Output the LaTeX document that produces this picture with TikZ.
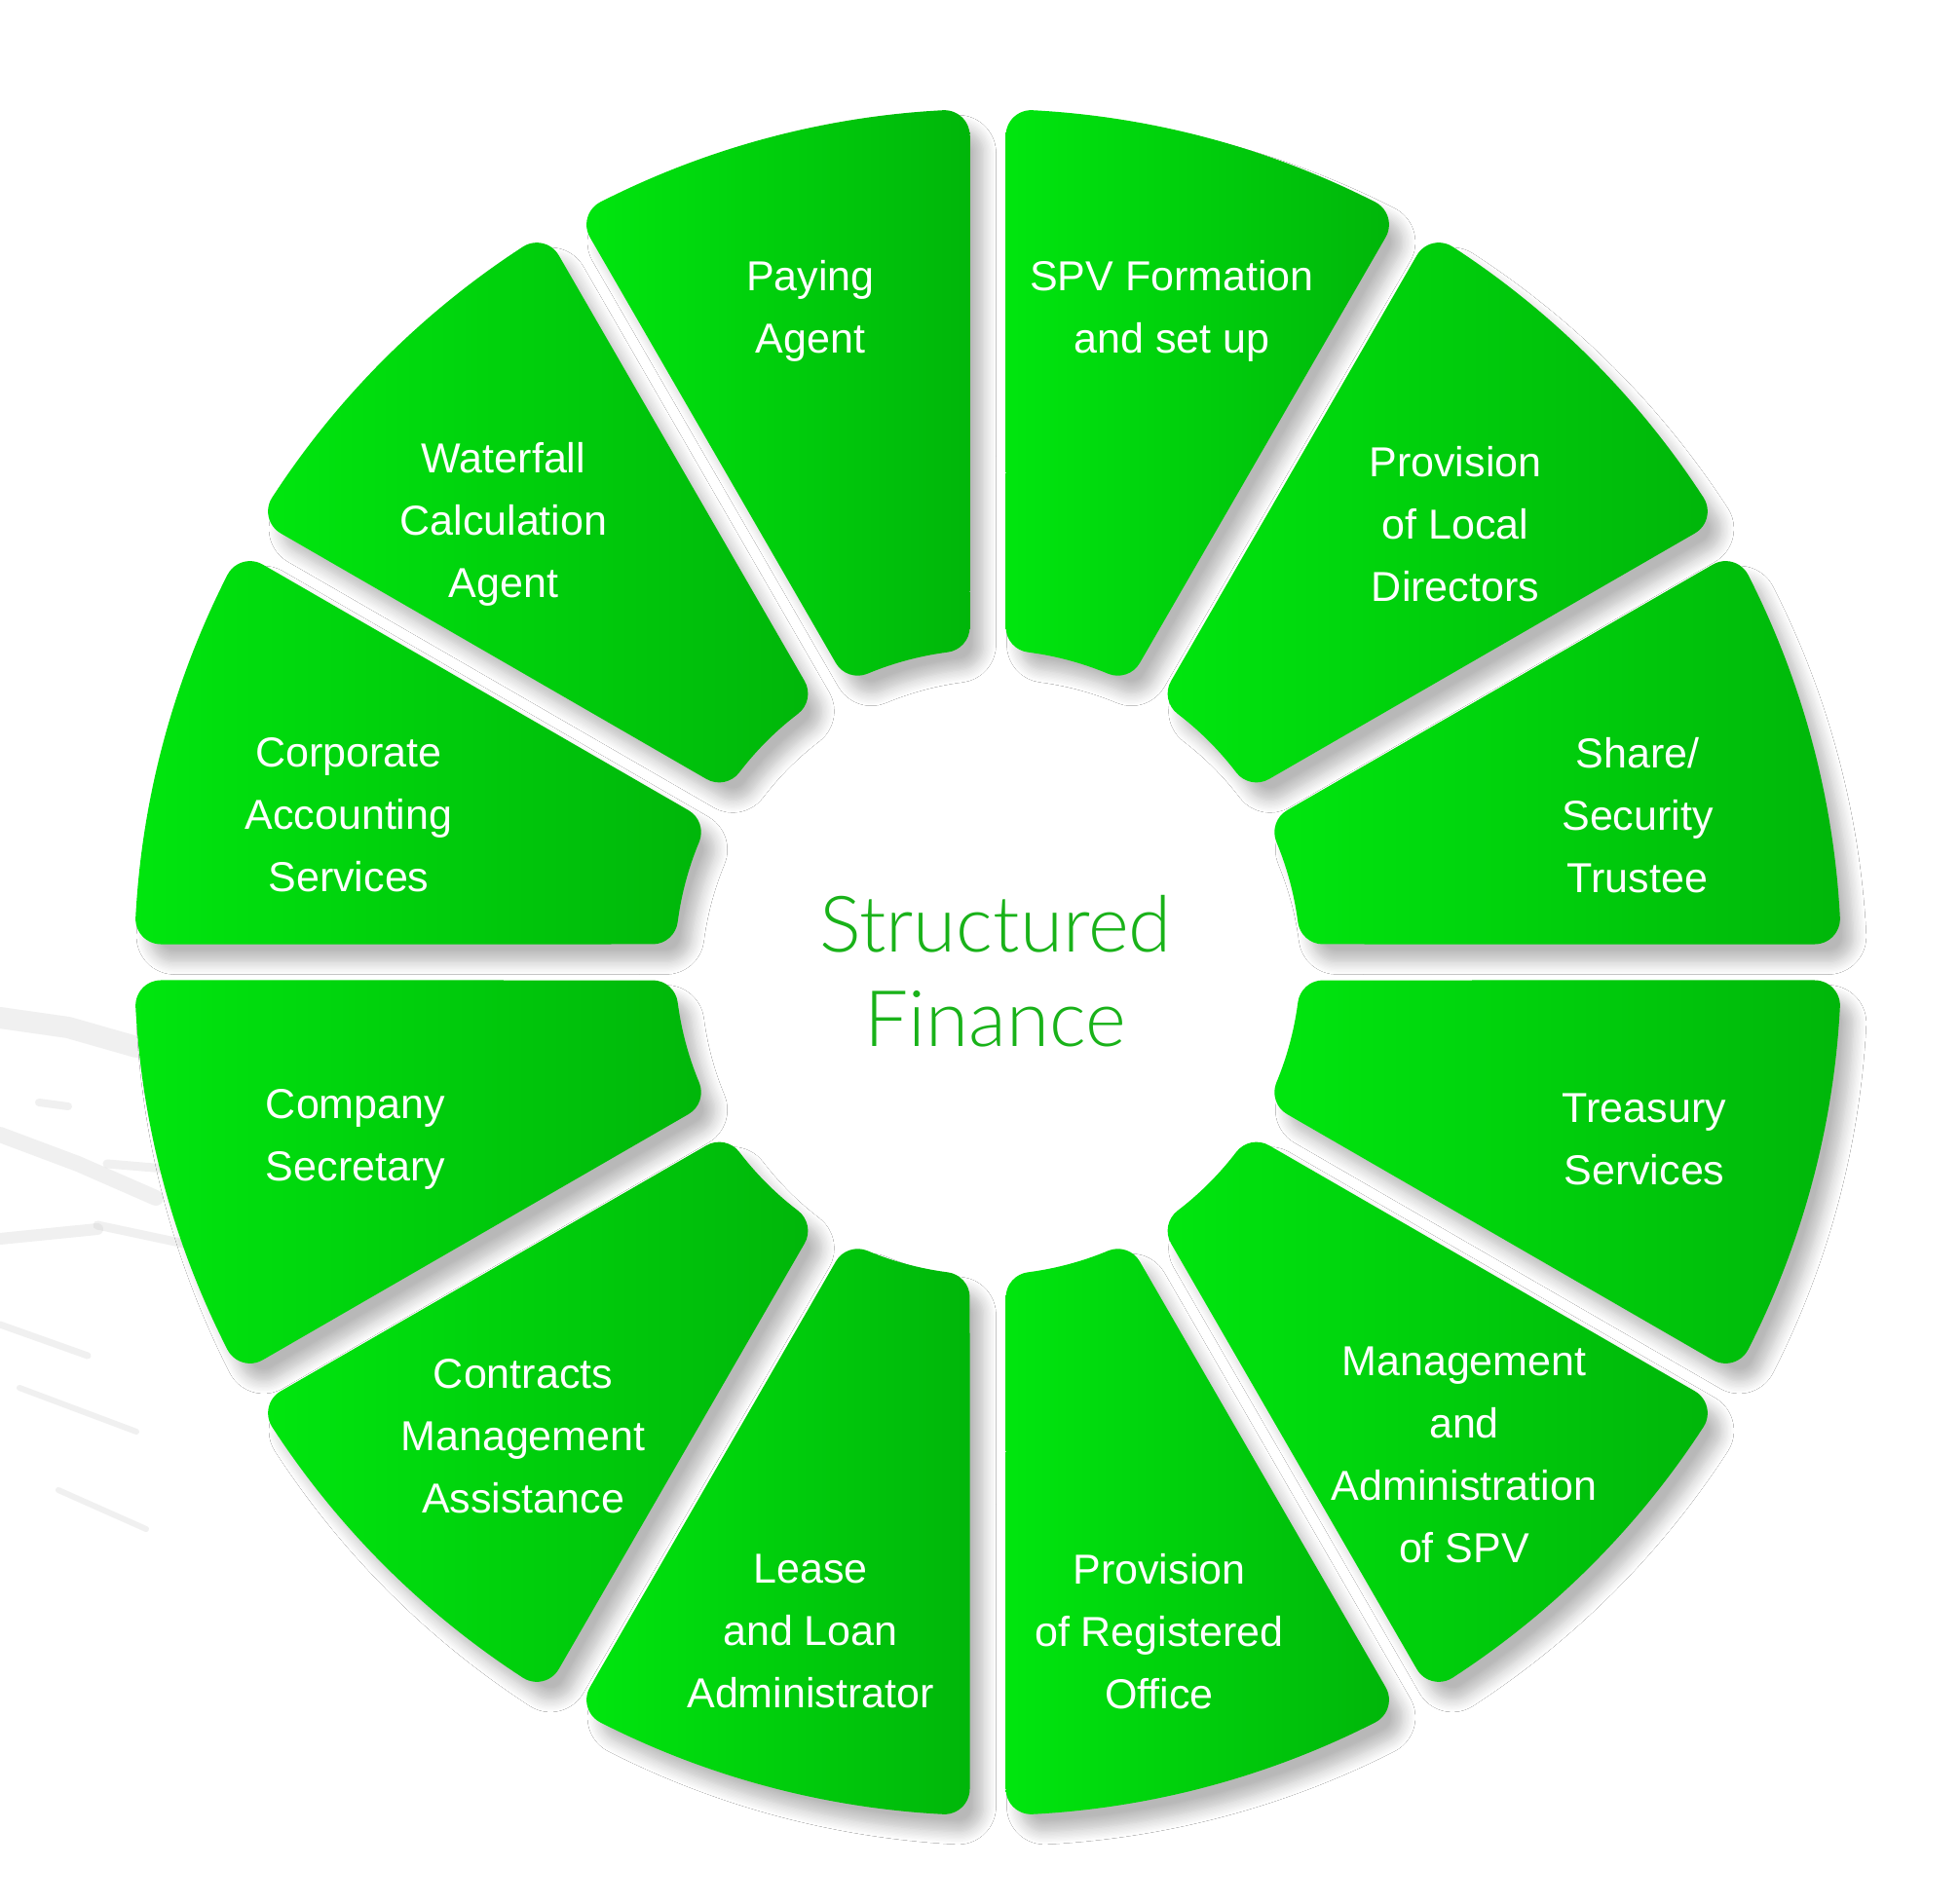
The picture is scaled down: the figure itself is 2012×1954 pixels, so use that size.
\documentclass[tikz,border=0pt]{standalone}
\usepackage{fontspec}
\setmainfont{Liberation Sans}
\IfFontExistsTF{Lato Light}{\newfontfamily\lightfont{Lato Light}}{\newfontfamily\lightfont{Liberation Sans}}
\usetikzlibrary{calc,shadows.blur}
\definecolor{segLight}{RGB}{0,230,14}
\definecolor{segDark}{RGB}{0,182,10}
\definecolor{titleGreen}{RGB}{25,178,25}
\definecolor{smudge}{RGB}{190,190,190}
\begin{document}
\begin{tikzpicture}[x=1pt,y=1pt,
  seg/.style={left color=segLight, right color=segDark,
    blur shadow={shadow xshift=14pt, shadow yshift=-18pt, shadow blur radius=13pt,
      shadow opacity=28, shadow blur steps=10}},
  lbl/.style={text=white, font=\fontsize{43}{64}\selectfont, align=center},
  title/.style={text=titleGreen, font=\lightfont\fontsize{80}{97}\selectfont, align=center},
  streak/.style={draw=smudge, line cap=round, line join=round, opacity=0.22}]
\fill[white] (-1014,-966) rectangle (998,988);
\useasboundingbox (-1014,-966) rectangle (998,988);
% faint background streaks at the left
\begin{scope}[shift={(-1014,988)}, y=-1pt]
  \draw[streak, line width=22pt] (0,1045) -- (70,1055) -- (140,1075);
  \draw[streak, line width=8pt] (40,1132) -- (70,1136);
  \draw[streak, line width=16pt] (0,1165) -- (80,1195) -- (160,1230);
  \draw[streak, line width=9pt] (110,1195) -- (230,1205);
  \draw[streak, line width=12pt] (0,1272) -- (100,1262);
  \draw[streak, line width=9pt] (100,1258) -- (180,1275) -- (250,1290);
  \draw[streak, line width=7pt] (0,1360) -- (90,1392);
  \draw[streak, line width=6pt] (20,1425) -- (140,1470);
  \draw[streak, line width=6pt] (60,1530) -- (150,1570);
  \draw[streak, line width=8pt] (150,1120) -- (200,1140);
\end{scope}
\def\Ro{876}\def\Ri{321}\def\rr{26}\def\aO{12.0}\def\aI{7.63}
\foreach \p in {15,45,...,345}{
  \path[seg] (\p-\aO:\Ro)
    arc[start angle=\p-\aO, end angle=\p+\aO, radius=\Ro]
    arc[start angle=\p+\aO, end angle=\p+105, radius=\rr]
    -- ($(\p+\aI:\Ri+\rr)+(\p+105:\rr)$)
    arc[start angle=\p+105, end angle=\p+\aI+180, radius=\rr]
    arc[start angle=\p+\aI, end angle=\p-\aI, radius=\Ri]
    arc[start angle=\p-\aI+180, end angle=\p+255, radius=\rr]
    -- ($(\p-\aO:\Ro-\rr)+(\p-105:\rr)$)
    arc[start angle=\p-105, end angle=\p-\aO, radius=\rr]
    -- cycle;
}
\node[lbl] (paying) at (-182,669) {Paying\\Agent};
\node[lbl] (spv) at (189,669) {SPV Formation\\and set up};
\node[lbl] (local) at (480,450) {Provision\\of Local\\Directors};
\node[lbl] (share) at (667,151) {Share/\\Security\\Trustee};
\node[lbl] (treasury) at (674,-182) {Treasury\\Services};
\node[lbl] (mgmt) at (489,-506) {Management\\and\\Administration\\of SPV};
\node[lbl] (regoffice) at (176,-687) {Provision\\of Registered\\Office};
\node[lbl] (lease) at (-182,-687) {Lease\\and Loan\\Administrator};
\node[lbl] (contracts) at (-477,-487) {Contracts\\Management\\Assistance};
\node[lbl] (secretary) at (-649,-182) {Company\\Secretary};
\node[lbl] (corporate) at (-656,151) {Corporate\\Accounting\\Services};
\node[lbl] (waterfall) at (-497,450) {Waterfall\\Calculation\\Agent};
\node[title] (center) at (8,-9) {Structured\\Finance};
\end{tikzpicture}
\end{document}
